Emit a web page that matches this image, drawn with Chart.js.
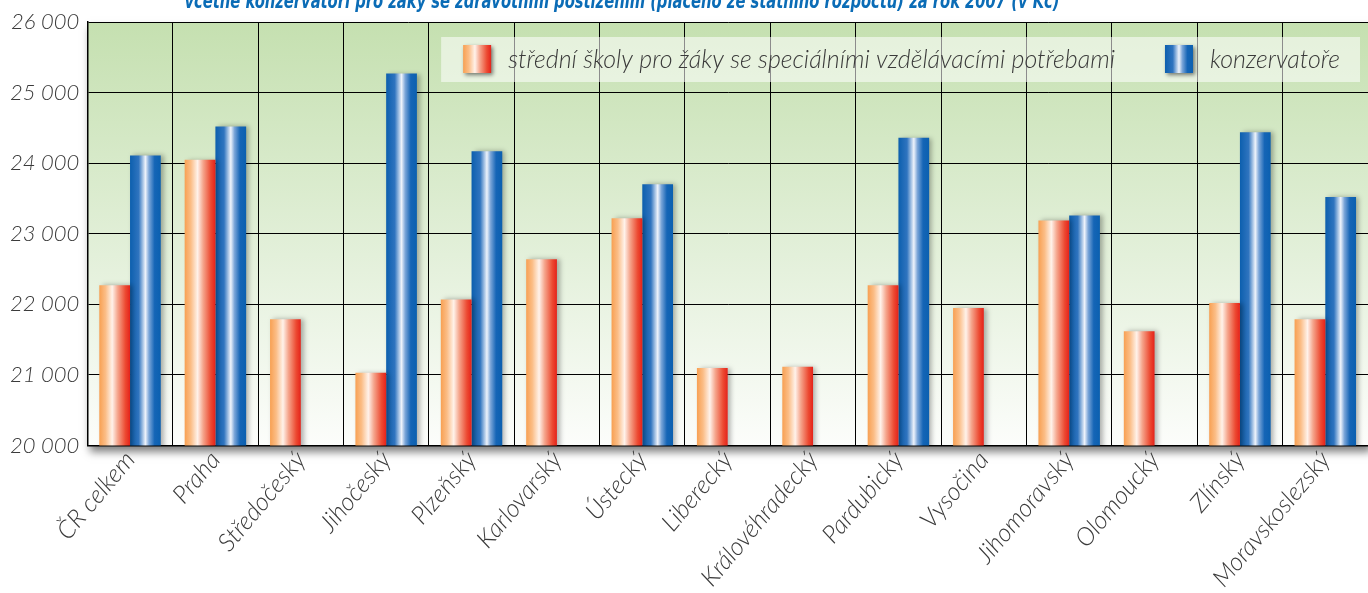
<!DOCTYPE html>
<html>
<head>
<meta charset="utf-8">
<script src="https://cdn.jsdelivr.net/npm/chart.js@4.4.1/dist/chart.umd.min.js"></script>
<style>
  body { margin: 0; background: #ffffff; }
  #wrap { width: 1368px; height: 593px; position: relative; }
</style>
</head>
<body>
<div id="wrap"><canvas id="graf"></canvas></div>
<script>
// průměrné platy 2007 - střední školy vs konzervatoře

var kraje = ["ČR celkem", "Praha", "Středočeský", "Jihočeský", "Plzeňský", "Karlovarský", "Ústecký", "Liberecký",
  "Královéhradecký", "Pardubický", "Vysočina", "Jihomoravský", "Olomoucký", "Zlínský", "Moravskoslezský"];
var stredniSkoly = [22270, 24050, 21790, 21030, 22070, 22640, 23220, 21100, 21115, 22270, 21950, 23190, 21620, 22020, 21790];
var konzervatore = [24110, 24520, null, 25270, 24170, null, 23700, null, null, 24360, null, 23260, null, 24440, 23520];
var nazvySerii = ["střední školy pro žáky se speciálními vzdělávacími potřebami", "konzervatoře"];
var osaYMin = 20000;
var osaYMax = 26000;
var osaYKrok = 1000;
var nadpis = "včetně konzervatoří pro žáky se zdravotním postižením (placeno ze státního rozpočtu) za rok 2007 (v Kč)";

var sirkaSkupiny = 0.72;
var oranzova = [[0, "#f8a052"], [0.2, "#fbbd86"], [0.42, "#fff2ea"], [0.6, "#f5a58c"], [0.85, "#ec4a32"], [1, "#e5221a"]];
var modra = [[0, "#0c5fae"], [0.28, "#2f74bf"], [0.5, "#eef3fb"], [0.62, "#7aa5d8"], [0.8, "#1565b6"], [1, "#0b60b0"]];
var pismo = "'Lato', 'Open Sans', sans-serif";

function prechod(c, x0, x1, stopy) {
  var g = c.createLinearGradient(x0, 0, x1, 0);
  for (var i = 0; i < stopy.length; i++) g.addColorStop(stopy[i][0], stopy[i][1]);
  return g;
}

// gradient pres sloupec (strana -1 = levy, 1 = pravy)
function vyplnSloupce(stopy, strana) {
  return function(context) {
    var chart = context.chart;
    var xs = chart.scales.x;
    if (!chart.chartArea || !xs || context.dataIndex === undefined) return stopy[0][1];
    var stred = xs.getPixelForValue(context.dataIndex);
    var w = xs.width / kraje.length * sirkaSkupiny / 2;
    var x0 = strana < 0 ? stred - w : stred;
    return prechod(chart.ctx, x0, x0 + w, stopy);
  };
}

function formatTisice(v) {
  return String(v).replace(/\B(?=(\d{3})+(?!\d))/g, " ");
}

function ctverecek(c, x, y, stopy) {
  c.save();
  c.shadowColor = "rgba(0,0,0,0.5)";
  c.shadowBlur = 4;
  c.shadowOffsetX = 2;
  c.shadowOffsetY = 2;
  c.fillStyle = prechod(c, x, x + 28, stopy);
  c.fillRect(x, y, 28, 28);
  c.restore();
}

var pozadiPlugin = {
  id: "pozadi",
  beforeDraw: function(chart) {
    var a = chart.chartArea;
    var c = chart.ctx;
    c.save();
    c.shadowColor = "rgba(0,0,0,0.5)";
    c.shadowBlur = 8;
    c.shadowOffsetX = 3;
    c.shadowOffsetY = 6;
    c.fillStyle = "#ffffff";
    c.fillRect(a.left, a.top, a.right - a.left, a.bottom - a.top);
    c.restore();
    var g = c.createLinearGradient(0, a.top, 0, a.bottom);
    g.addColorStop(0, "#c5e0b0");
    g.addColorStop(0.55, "#e3f0da");
    g.addColorStop(1, "#fcfdfb");
    c.fillStyle = g;
    c.fillRect(a.left, a.top, a.right - a.left, a.bottom - a.top);
  },
  beforeDatasetsDraw: function(chart) {
    // legenda uvnitr grafu, zarovnana doprava
    var a = chart.chartArea;
    var c = chart.ctx;
    var prava = a.right - 28;
    var stredY = a.top + 37;
    c.save();
    c.font = "italic 300 25px " + pismo;
    var w1 = c.measureText(nazvySerii[0]).width;
    var w2 = c.measureText(nazvySerii[1]).width;
    var t2 = prava - w2;
    var b2 = t2 - 45;
    var t1 = b2 - 50 - w1;
    var b1 = t1 - 45;
    c.fillStyle = "rgba(255,255,255,0.55)";
    c.fillRect(b1 - 22, stredY - 22, prava + 20 - (b1 - 22), 45);
    ctverecek(c, b1, stredY - 14, oranzova);
    ctverecek(c, b2, stredY - 14, modra);
    c.fillStyle = "#3a3a3a";
    c.textBaseline = "middle";
    c.fillText(nazvySerii[0], t1, stredY + 1);
    c.fillText(nazvySerii[1], t2, stredY + 1);
    c.restore();
  },
  beforeDatasetDraw: function(chart) {
    var c = chart.ctx;
    c.save();
    c.shadowColor = "rgba(0,0,0,0.3)";
    c.shadowBlur = 5;
    c.shadowOffsetX = 3;
    c.shadowOffsetY = 0;
  },
  afterDatasetDraw: function(chart) {
    chart.ctx.restore();
  },
  afterDraw: function(chart) {
    var c = chart.ctx;
    c.save();
    c.font = "bold italic 22px 'DejaVu Sans Condensed', sans-serif";
    var w = c.measureText(nadpis).width;
    c.fillStyle = "#0b6cb6";
    c.textAlign = "center";
    c.textBaseline = "alphabetic";
    c.translate(622, 8);
    c.scale(875 / w, 1);
    c.fillText(nadpis, 0, 0);
    c.restore();
  }
};

new Chart(document.getElementById("graf"), {
  type: "bar",
  data: {
    labels: kraje,
    datasets: [{
      label: nazvySerii[0],
      data: stredniSkoly,
      backgroundColor: vyplnSloupce(oranzova, -1),
      borderWidth: 0
    }, {
      label: nazvySerii[1],
      data: konzervatore,
      backgroundColor: vyplnSloupce(modra, 1),
      borderWidth: 0
    }]
  },
  options: {
    responsive: true,
    maintainAspectRatio: false,
    animation: false,
    categoryPercentage: sirkaSkupiny,
    barPercentage: 1,
    layout: { padding: { top: 22, right: 0, left: 2, bottom: 0 } },
    plugins: {
      title: { display: false },
      tooltip: { enabled: false },
      legend: { display: false }
    },
    scales: {
      x: {
        grid: { color: "#000000", lineWidth: 1, drawTicks: false, offset: true },
        border: { color: "#000000", width: 1.5 },
        ticks: {
          color: "#3a3a3a",
          font: { family: pismo, size: 25, style: "italic", weight: "300" },
          maxRotation: 50,
          minRotation: 50,
          autoSkip: false,
          padding: 0
        }
      },
      y: {
        min: osaYMin,
        max: osaYMax,
        grid: { color: "#000000", lineWidth: 1, drawTicks: false },
        border: { color: "#000000", width: 1.5 },
        ticks: {
          stepSize: osaYKrok,
          color: "#3a3a3a",
          padding: 8,
          font: { family: pismo, size: 22, style: "italic", weight: "300" },
          callback: function(v) { return formatTisice(v); }
        }
      }
    }
  },
  plugins: [pozadiPlugin]
});
</script>
</body>
</html>
